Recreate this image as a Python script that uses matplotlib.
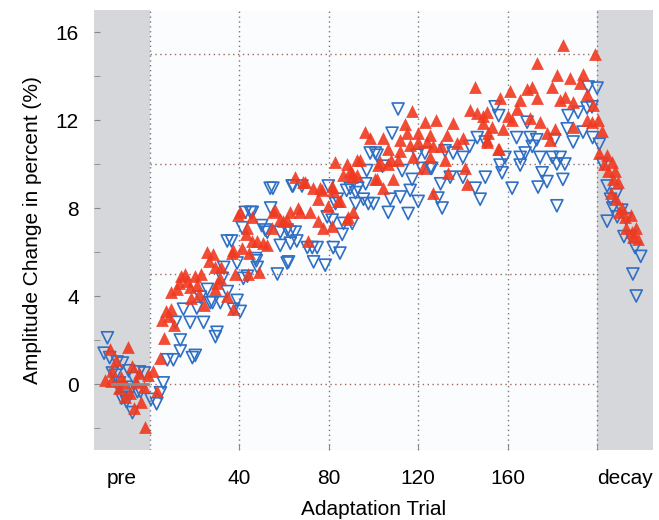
import matplotlib as mpl
mpl.use('Agg')
import matplotlib.pyplot as plt
from matplotlib import font_manager

# condensed look if available
names = set(f.name for f in font_manager.fontManager.ttflist)
fam = ['Liberation Sans Narrow'] if 'Liberation Sans Narrow' in names else []
plt.rcParams['font.family'] = fam + ['Liberation Sans', 'DejaVu Sans']

# values: (trial, amplitude change %)
red_x = [-18, -10, -15, -17, -8, -5, -13, -17.5, -12, -6, -9, -2.5, -4, -1, -7, -2, -20, -14, -11,
         1.5, 3, 4.5, 6.5, 5.5, 7, 9.5, 11, 9.5, 12, 14, 15.5, 18, 18.5, 23, 24, 25.7, 28, 29, 30,
         32, 36.5, 34.6, 37, 38, 41, 43, 44.5, 48, 49, 31.5, 29, 44, 37, 45.8, 50.8, 52.5, 39.6,
         45.8, 43.5, 8.5, 13, 16.5, 20, 21, 26.5, 22,
         54.7, 56, 58.3, 61.4, 62.8, 66.4, 67.3, 65, 69.5, 71.7, 75.4, 77.5, 70.8, 76, 75.4, 81.5,
         79.8, 85, 88, 91, 83, 88, 92.5, 90.5, 86.5, 96.3, 98.5, 94, 89.6, 92.7, 84, 81.5, 68.6,
         73, 77, 40.5, 55, 59.7, 102, 106.6, 100.8, 90.4, 82, 88.7,
         117.3, 114, 123, 135.6, 104.4, 112, 115, 120, 125.4, 133, 116.4, 120, 124, 130, 137.4, 140,
         106.6, 112, 103, 108, 111, 117.8, 125.4, 132, 122, 133.5, 141, 101.6, 108.8, 104.4, 142,
         126.8, 145.5, 143, 146.4, 149, 150.8, 126.6, 151, 155.8, 128,
         184.8, 199, 173, 182, 188, 193.7, 180, 192.4, 168.7, 171, 161, 156.6, 165.6, 173, 183.5,
         185.6, 189.3, 195.5, 198, 164, 160, 150.8, 149, 153, 158, 170, 174.5, 181, 177.5, 179,
         189.3, 195.5, 197.7, 150.8, 156, 162,
         200.5, 201, 202, 203, 205, 208, 207, 209.5, 206, 208.5, 211, 210, 212.5, 215, 213, 215.5,
         217.5, 218.5, 216, 204.5, 206.5]
red_y = [1.6, 1.7, 1.1, 0.6, 0.8, 0.5, 0.3, 0.15, 0.05, 0.1, -0.4, -0.15, -0.8, 0.4, -1.1, -1.95, 0.2, -0.2, -0.6,
         0.6, -0.3, 1.2, 2.1, 2.9, 3.3, 3.4, 2.7, 4.2, 4.3, 4.9, 5.0, 4.4, 3.9, 5.0, 3.6, 6.0, 5.9, 5.3, 4.6,
         5.3, 5.95, 4.0, 3.4, 5.0, 6.2, 6.8, 5.95, 6.5, 5.1, 4.8, 4.3, 5.0, 6.1, 6.5, 6.4, 6.3, 7.7,
         7.6, 7.1, 3.1, 4.6, 4.7, 4.9, 4.5, 5.6, 4.1,
         7.1, 7.9, 7.5, 7.45, 7.8, 8.0, 7.8, 9.4, 9.2, 7.8, 7.4, 7.1, 6.5, 8.9, 8.4, 9.0,
         8.1, 8.3, 7.5, 7.8, 10.1, 10.0, 10.2, 9.6, 9.5, 11.45, 11.2, 10.2, 9.7, 9.5, 8.3, 7.2, 9.2,
         8.9, 8.8, 7.8, 7.8, 7.4, 9.95, 10.0, 9.3, 9.4, 8.8, 7.6,
         12.4, 11.8, 11.9, 11.85, 11.2, 11.1, 11.4, 11.4, 11.3, 11.3, 10.85, 11.0, 11.0, 10.8, 10.95, 11.2,
         10.7, 10.6, 10.1, 10.2, 10.2, 10.3, 10.3, 10.2, 9.8, 9.6, 9.8, 9.3, 9.3, 8.9, 9.1,
         8.7, 13.5, 12.45, 12.3, 12.2, 11.1, 10.8, 11.4, 10.7, 12.0,
         15.4, 15.0, 14.6, 14.05, 13.9, 14.1, 13.5, 13.7, 13.4, 13.5, 13.3, 13.0, 12.9, 13.0, 12.9,
         13.05, 12.8, 13.2, 12.7, 12.5, 12.2, 12.35, 11.85, 11.7, 11.6, 12.1, 11.9, 11.6, 11.4, 11.1,
         11.7, 12.0, 11.9, 11.0, 10.7, 12.0,
         12.0, 10.5, 11.5, 10.0, 9.7, 9.7, 9.3, 9.2, 8.7, 8.4, 8.0, 7.8, 7.6, 7.7, 7.1, 6.9,
         7.1, 6.6, 6.7, 10.4, 10.1]

blue_x = [-19, -18, -14.6, -12.3, -16.8, -13.6, -4.7, -2.5, -12.7, -10.5, -7.8, -7.8, -5.6, -15.4,
          -7.3, -14, -11, -4.2, -20.5, -9.5,
          0.5, 3, 4.7, 6, 7.8, 10.5, 13.6, 13.6, 19, 20.3, 11.4, 18, 24, 30, 29.3, 15, 21, 27, 22.6,
          25.7, 31.5, 39, 37.4, 40.4, 33, 39, 41.8, 48, 32.4, 34.6, 36.5, 43.6, 47.6, 28,
          45, 41.3, 50, 52.5, 47.2, 45.8, 42.7, 34.6, 51.6,
          53.8, 64, 68, 54, 58.3, 62.8, 58.3, 62.8, 65.7, 70.4, 74.8, 62, 73.2, 78.4, 57, 82, 86,
          79.3, 81.5, 83, 86.6, 90.5, 79.8, 83.8, 88, 92, 95.5, 96.5, 92, 61.4, 85, 89.6, 93, 97,
          55, 63.6, 61.4, 65, 72.6, 97.7,
          111, 108.3, 98.5, 100.8, 119.5, 123, 125.4, 135.6, 140, 146.4, 150, 143, 154.4, 156,
          112.8, 117.3, 116.4, 121.7, 126, 130, 134.3, 140, 145.5, 150, 147.7, 100, 107.5, 112,
          106.6, 115.5, 120, 128.8, 130.7, 101.6, 104, 132,
          196, 200, 187, 191.5, 195.5, 197.7, 168.7, 186.6, 193.7, 198, 189.3, 164, 170, 173, 181,
          171, 167.8, 165.6, 158.8, 174.5, 180, 183.5, 185.6, 182, 165.6, 156.6, 157.5, 175.4,
          177.6, 173.6, 184.7, 162, 182,
          201, 202.5, 204.5, 208.5, 204.5, 207, 211, 213, 212, 215, 217, 219.5, 216, 217.5, 206, 209]
blue_y = [2.1, 1.2, 1.0, 0.95, 0.5, 0.05, 0.55, 0.5, -0.65, -0.8, -1.3, -0.15, -0.35, 0.4,
          0.25, -0.15, -0.6, -0.35, 1.4, 0.6,
          -0.7, -0.9, -0.4, 0.05, 1.1, 1.1, 2.0, 1.5, 1.2, 1.3, 2.8, 2.8, 2.8, 2.35, 2.15, 3.4, 3.45, 3.7, 3.95,
          4.3, 3.7, 3.8, 3.4, 3.3, 5.3, 5.5, 4.8, 5.3, 4.8, 4.2, 6.5, 4.9, 5.6, 3.7,
          7.8, 7.1, 7.2, 6.9, 5.7, 7.8, 7.8, 6.5, 7.0,
          8.9, 9.0, 9.0, 8.0, 6.9, 6.9, 6.3, 6.4, 6.5, 6.2, 6.2, 5.55, 5.55, 5.4, 5.0, 6.2, 6.8,
          7.6, 7.45, 8.2, 7.3, 7.3, 9.0, 8.4, 8.8, 8.7, 8.4, 9.1, 8.2, 5.5, 5.95, 8.9, 8.9, 9.7,
          8.9, 9.0, 7.0, 6.9, 6.2, 8.2,
          12.5, 11.4, 10.5, 10.5, 10.4, 10.5, 9.8, 10.5, 10.3, 11.2, 11.0, 10.8, 12.6, 12.2,
          9.7, 9.3, 8.8, 9.8, 9.8, 9.1, 9.4, 9.4, 8.9, 9.4, 8.4, 8.2, 8.4, 8.5,
          7.8, 7.75, 8.3, 8.45, 8.0, 10.4, 9.9, 10.6,
          13.5, 13.45, 12.2, 12.35, 12.55, 12.6, 11.9, 11.6, 11.45, 11.2, 11.0, 11.2, 11.2, 11.1, 11.1,
          10.8, 10.5, 10.3, 10.3, 10.3, 10.3, 10.3, 10.0, 10.0, 9.95, 9.95, 9.6, 9.6,
          9.2, 8.95, 9.3, 8.9, 8.1,
          10.9, 10.0, 9.0, 8.6, 7.4, 8.0, 7.9, 7.5, 6.7, 6.7, 6.2, 5.8, 5.0, 4.0, 8.4, 7.6]

xtick_pos = [-12.5, 40, 80, 120, 160, 212.5]
xtick_lab = ['pre', '40', '80', '120', '160', 'decay']
ytick_pos = [0, 4, 8, 12, 16]


def main():
  fig = plt.figure(figsize=(6.59, 5.2), dpi=100)
  ax = fig.add_axes([94 / 659, 70 / 520, 559 / 659, 440 / 520])
  ax.set_facecolor('#fbfcfe')
  ax.set_xlim(-25, 225)
  ax.set_ylim(-3, 17)

  ax.axvspan(-25, 0, color='#d6d7da', lw=0, zorder=0)
  ax.axvspan(200, 225, color='#d6d7da', lw=0, zorder=0)

  for v in [0, 40, 80, 120, 160, 200]:
    ax.axvline(v, color='#777777', lw=1, ls=(0, (1, 2.5)), zorder=1)
  for h in [0, 5, 10, 15]:
    ax.plot([0, 200], [h, h], color='#9a6a62', lw=1, ls=(0, (1, 2.5)), zorder=1)

  # open blue below, filled red on top (as in the original)
  ax.scatter(blue_x, blue_y, marker='v', s=75, facecolors='none',
             edgecolors='#2f6fc4', linewidths=1.2, zorder=2)
  ax.scatter(red_x, red_y, marker='^', s=85, color='#f03a20', alpha=0.9,
             lw=0, zorder=3)
  ax.plot([-17, -1], [0, 0], color='#8c8c8c', lw=2, zorder=4)

  for s in ax.spines.values():
    s.set_visible(False)

  ax.set_xticks(xtick_pos)
  ax.set_xticklabels(xtick_lab)
  ax.set_xticks([200], minor=True)
  ax.set_yticks(ytick_pos)
  ax.set_yticks([-2, 2, 6, 10, 14], minor=True)
  ax.tick_params(which='both', direction='in', color='#888888', length=4)
  ax.tick_params(axis='x', pad=14, labelsize=15)
  ax.tick_params(axis='y', pad=11, labelsize=15)
  for i in [0, -1]:
    ax.xaxis.get_major_ticks()[i].tick1line.set_visible(False)

  ax.set_xlabel('Adaptation Trial', fontsize=15, labelpad=8)
  ax.set_ylabel('Amplitude Change in percent (%)', fontsize=15, labelpad=10)

  plt.savefig('out.png', dpi=100)


if __name__ == '__main__':
  main()
